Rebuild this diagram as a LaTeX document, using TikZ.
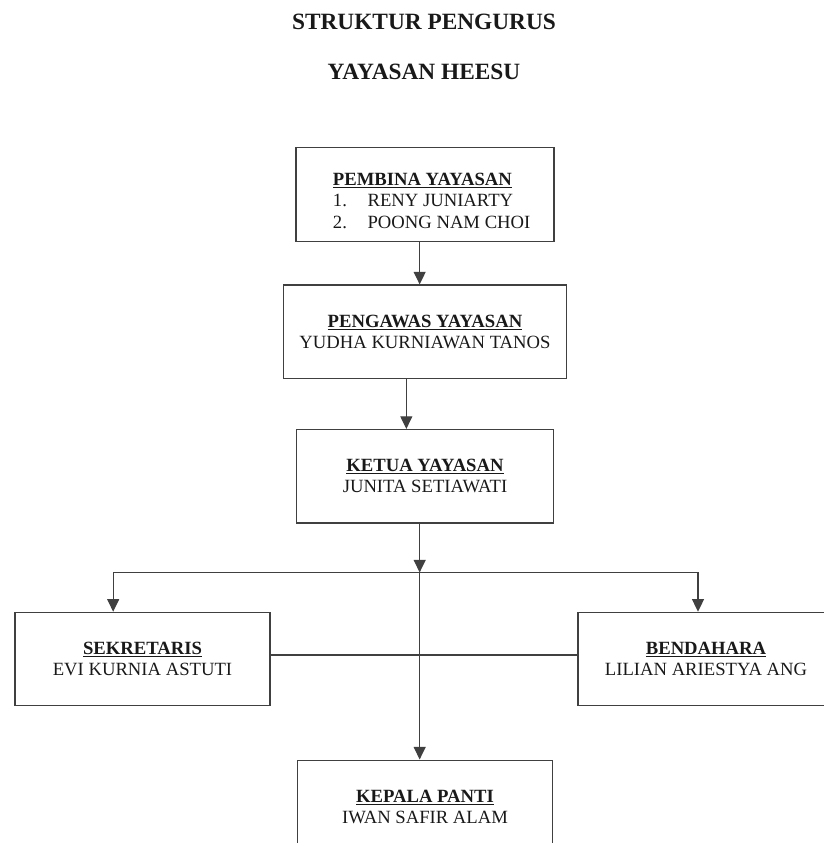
\documentclass[tikz,border=0pt]{standalone}
\usepackage{fontspec}
\setmainfont{Liberation Serif}
\usetikzlibrary{arrows.meta,positioning}

\begin{document}
\begin{tikzpicture}[
    x=0.75pt, y=-0.75pt,
    every node/.style={font=\fontsize{14}{16}\selectfont, text=black!90},
    title/.style={font=\fontsize{17.5}{20}\selectfont\bfseries},
    unit/.style={draw=black!75, line width=0.9pt, align=center, minimum height=70pt},
    flow/.style={-{Triangle[length=9.5pt,width=9pt]}, draw=black!75, line width=0.9pt},
    link/.style={draw=black!75, line width=0.9pt}
]
\path[use as bounding box] (0,0) rectangle (824,843);
\node[title] (judul) at (424,22) {STRUKTUR PENGURUS};
\node[title] (yayasan) at (424,72) {YAYASAN HEESU};
\node[unit, minimum width=193.5pt] (pembina) at (425,194.5) {\hspace*{10pt}\raisebox{-6pt}[\height][\depth]{\begin{tabular}{@{}l@{}}\underline{\textbf{PEMBINA YAYASAN}}\\ \makebox[26pt][l]{1.}RENY JUNIARTY\\ \makebox[26pt][l]{2.}POONG NAM CHOI\end{tabular}}};
\node[unit, minimum width=212.25pt, below=32pt of pembina] (pengawas) {\underline{\textbf{PENGAWAS YAYASAN}}\\YUDHA KURNIAWAN TANOS};
\node[unit, minimum width=192.75pt, below=37.5pt of pengawas] (ketua) {\underline{\textbf{KETUA YAYASAN}}\\JUNITA SETIAWATI};
\node[unit, minimum width=191.25pt] (sekretaris) at (142.5,659) {\underline{\textbf{SEKRETARIS}}\\EVI KURNIA ASTUTI};
\node[unit, minimum width=192pt] (bendahara) at (706,659) {\underline{\textbf{BENDAHARA}}\\LILIAN ARIESTYA ANG};
\node[unit, minimum width=191.25pt, below=177pt of ketua] (kepala) {\underline{\textbf{KEPALA PANTI}}\\IWAN SAFIR ALAM};
\coordinate (cabang) at ([xshift=-4pt,yshift=-36.75pt]ketua.south);
\draw[flow] ([xshift=-4pt]pembina.south) -- ([xshift=-4pt]pengawas.north);
\draw[flow] ([xshift=-14pt]pengawas.south) -- ([xshift=-14pt]ketua.north);
\draw[flow] ([xshift=-4pt]ketua.south) -- (cabang);
\draw[flow] (cabang) -- (cabang |- kepala.north);
\draw[flow] (cabang) -| ([xshift=-22pt]sekretaris.north);
\draw[flow] (cabang) -| ([xshift=-6pt]bendahara.north);
\draw[link] ([yshift=3pt]sekretaris.east) -- ([yshift=3pt]bendahara.west);
\end{tikzpicture}
\end{document}
